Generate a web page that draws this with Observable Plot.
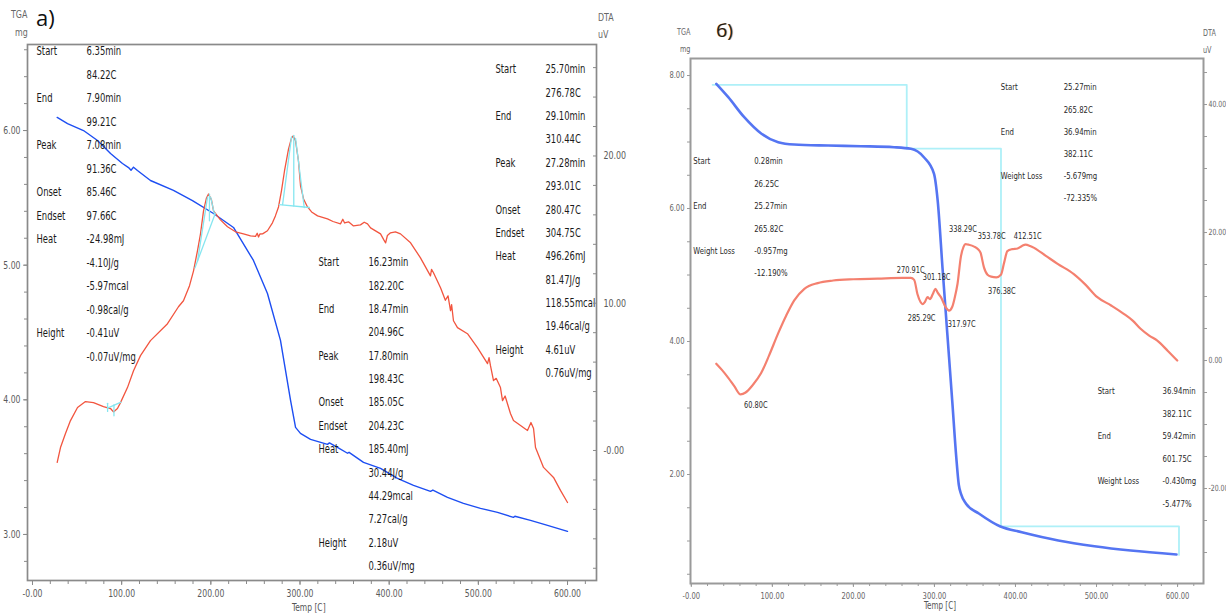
<!DOCTYPE html>
<html><head><meta charset="utf-8">
<script src="https://cdn.jsdelivr.net/npm/d3@7"></script>
<script src="https://cdn.jsdelivr.net/npm/@observablehq/plot@0.6"></script>
<style>
html,body{margin:0;padding:0;background:#fff;}
#root{position:relative;width:1226px;height:614px;overflow:hidden;background:#fff;
  font-family:'DejaVu Sans Condensed','DejaVu Sans',sans-serif;}
.t{position:absolute;white-space:nowrap;line-height:1;transform-origin:left top;}
</style></head>
<body><div id="root"></div>
<script>
// ---------------- DATA ----------------
// Panel a) : TGA (mg) vs Temp (C)
const tgaA = [[27.7,6.097],[39.3,6.052],[57.2,6.000],[72.9,5.926],[87.5,5.829],[100.9,5.755],[107.7,5.725],[110.5,5.705],[113.3,5.728],[117.7,5.703],[132.3,5.629],[158.1,5.555],[179.4,5.480],[203.0,5.384],[225.4,5.280],[247.8,5.035],[263.5,4.790],[278.1,4.441],[289.3,4.000],[295.0,3.795],[300.5,3.751],[311.8,3.706],[330.8,3.669],[333,3.680],[342,3.647],[353.3,3.603],[355,3.610],[371.2,3.535],[390.3,3.491],[409.3,3.416],[427.3,3.365],[446.3,3.320],[449,3.330],[465.4,3.276],[483.3,3.231],[502.4,3.194],[521.5,3.164],[539.4,3.127],[541,3.135],[558.5,3.105],[577.6,3.068],[600,3.023]];
// Panel a) : DTA (uV) vs Temp (C)
const dtaA = [[27.7,-0.81],[31.4,0.20],[37,1.15],[42.6,2.03],[50.5,2.92],[59.4,3.32],[68.4,3.25],[79.6,2.98],[87.5,2.85],[90.8,2.62],[95.3,2.85],[98.7,3.25],[106.5,4.27],[113.3,5.42],[121.1,6.44],[132.3,7.46],[151.4,8.61],[163.7,9.76],[169.3,10.17],[176.1,11.19],[180.6,12.2],[185,13.56],[188.4,14.71],[191.8,16.27],[195.1,17.15],[197.4,17.42],[200.7,17.02],[203,16.27],[210.8,15.66],[218.7,15.19],[227.7,14.85],[236.6,14.71],[244.5,14.58],[250.1,14.54],[252,14.75],[253.5,14.5],[255,14.7],[258,14.71],[263.5,14.92],[269.1,15.46],[272.4,15.93],[275.9,16.54],[279.2,17.63],[282.6,18.98],[287.1,20.47],[290.5,21.22],[292.4,21.36],[295,21.02],[298.3,19.66],[300.6,17.97],[304,17.08],[308.4,16.54],[313,16.2],[319.7,15.93],[330.8,15.73],[337,15.55],[345.4,15.39],[348,15.7],[350,15.45],[354.4,15.53],[360,15.25],[367.8,15.32],[372,15.5],[375.7,15.39],[379.1,15.12],[390.3,14.71],[394,14.3],[396,14.10],[398,14.6],[401.5,14.78],[407,14.85],[412.7,14.71],[424,14.10],[435.1,13.08],[446.3,11.86],[447.5,12.3],[449.7,12.07],[457.6,11.05],[463,10.2],[466,10.5],[468.8,9.49],[470,9.9],[472.1,8.81],[476.6,8.34],[487.8,7.93],[499,6.98],[510.3,5.90],[512,6.3],[513.6,5.76],[517,4.75],[520,4.9],[524.8,4.27],[527.1,3.39],[530,3.7],[536,2.51],[539.4,2.03],[547.3,1.69],[555.1,1.36],[559,1.9],[561.9,1.49],[564.1,0.20],[573.1,-1.15],[584.3,-1.83],[592.1,-2.71],[600,-3.53]];
// Panel a) : peak-analysis construction lines (DTA units)
const cyanA = [
  [[84.22,2.87],[99.21,3.28]], [[84.22,2.65],[84.22,3.2]], [[91.36,2.35],[91.36,3.1]],
  [[182.2,12.4],[204.96,16.1]], [[185.05,12.85],[196.3,17.2]], [[204.23,16.0],[199.8,17.2]], [[198.43,17.4],[198.43,15.6]],
  [[276.78,16.7],[310.44,16.5]], [[280.47,16.7],[290.5,21.3]], [[304.75,16.5],[295.0,21.2]], [[293.01,21.4],[293.01,16.6]]
];
// Panel a) readouts
const blockA1 = [["Start","6.35min"],["","84.22C"],["End","7.90min"],["","99.21C"],["Peak","7.08min"],["","91.36C"],["Onset","85.46C"],["Endset","97.66C"],["Heat","-24.98mJ"],["","-4.10J/g"],["","-5.97mcal"],["","-0.98cal/g"],["Height","-0.41uV"],["","-0.07uV/mg"]];
const blockA2 = [["Start","16.23min"],["","182.20C"],["End","18.47min"],["","204.96C"],["Peak","17.80min"],["","198.43C"],["Onset","185.05C"],["Endset","204.23C"],["Heat","185.40mJ"],["","30.44J/g"],["","44.29mcal"],["","7.27cal/g"],["Height","2.18uV"],["","0.36uV/mg"]];
const blockA3 = [["Start","25.70min"],["","276.78C"],["End","29.10min"],["","310.44C"],["Peak","27.28min"],["","293.01C"],["Onset","280.47C"],["Endset","304.75C"],["Heat","496.26mJ"],["","81.47J/g"],["","118.55mcal"],["","19.46cal/g"],["Height","4.61uV"],["","0.76uV/mg"]];

// Panel б) : TGA (mg)
const tgaB = [[30.8,7.875],[45.6,7.674],[65.3,7.373],[86.2,7.128],[107.2,6.997],[126.9,6.962],[168.8,6.947],[209.4,6.937],[250.1,6.922],[271,6.898],[287,6.771],[299.4,6.526],[304,6.12],[310,5.10],[316,4.10],[322,3.10],[327,2.25],[330,1.85],[333,1.70],[339,1.56],[354.8,1.414],[381.4,1.218],[407.8,1.132],[452.8,1.008],[497.4,0.922],[542.1,0.857],[598.7,0.797]];
// Panel б) : DTA (uV)
const dtaB = [[30.8,-0.5],[38,-1.5],[45.6,-2.7],[53,-4.0],[60.8,-5.3],[67,-5.0],[76,-3.8],[86,-2.0],[96,0.8],[107,4.2],[117,7.0],[127,9.4],[139.5,11.2],[156,12.1],[175,12.5],[200,12.7],[230,12.8],[260,12.9],[270.9,12.9],[275,12.6],[279,10.4],[283,9.1],[285.3,8.8],[288,9.1],[291.5,9.9],[294.5,9.6],[298,10.4],[301.2,11.2],[304,10.6],[308,9.9],[314,8.3],[318,7.8],[322,8.4],[325,9.8],[328.5,12.0],[332.6,16.2],[336,17.8],[338.3,18.2],[342,18.1],[349,17.8],[353.8,17.4],[357,16.8],[361,14.6],[365.5,13.4],[370,13.1],[376.4,13.0],[382,13.4],[386,15.3],[390,17.1],[396,17.4],[402.5,17.5],[408,17.9],[412.5,18.1],[418,17.9],[423,17.6],[437,16.4],[452,15.1],[472,13.5],[486,11.9],[501,9.9],[518,8.6],[533.6,7.3],[545,6.2],[554,5.0],[565,3.9],[575,3.1],[588,1.5],[599.6,0.0]];
// Panel б) : weight-loss steps (mg)
const stepsB = [[26.25,7.86],[265.82,7.86],[265.82,6.90],[382.11,6.90],[382.11,1.22],[601.75,1.22],[601.75,0.79]];
// Panel б) peak temperature labels (DTA units)
const peakLabelsB = [
  {text:"60.80C", x:65, y:-6.9}, {text:"270.91C", x:253.5, y:14.1}, {text:"301.18C", x:285.5, y:13.1},
  {text:"285.29C", x:267, y:6.6}, {text:"317.97C", x:316.5, y:5.7}, {text:"338.29C", x:318, y:20.5},
  {text:"353.78C", x:353.5, y:19.4}, {text:"376.38C", x:366, y:10.9}, {text:"412.51C", x:398, y:19.5}
];
// Panel б) readouts
const blockB1 = [["Start","0.28min"],["","26.25C"],["End","25.27min"],["","265.82C"],["Weight Loss","-0.957mg"],["","-12.190%"]];
const blockB2 = [["Start","25.27min"],["","265.82C"],["End","36.94min"],["","382.11C"],["Weight Loss","-5.679mg"],["","-72.335%"]];
const blockB3 = [["Start","36.94min"],["","382.11C"],["End","59.42min"],["","601.75C"],["Weight Loss","-0.430mg"],["","-5.477%"]];

// Ticks
const xTicks = [0,100,200,300,400,500,600];
const xTickLabels = ["-0.00","100.00","200.00","300.00","400.00","500.00","600.00"];
const tgaTicksA = [3,4,5,6], tgaLabelsA = ["3.00","4.00","5.00","6.00"];
const dtaTicksA = [0,10,20], dtaLabelsA = ["-0.00","10.00","20.00"];
const tgaTicksB = [2,4,6,8], tgaLabelsB = ["2.00","4.00","6.00","8.00"];
const dtaTicksB = [-20,0,20,40], dtaLabelsB = ["-20.00","0.00","20.00","40.00"];

// ---------------- DRAWING ----------------
const FONT = "'DejaVu Sans Condensed','DejaVu Sans',sans-serif";
const root = document.getElementById("root");
const fmt = (ticks, labels) => { const m = new Map(ticks.map((t,i)=>[t,labels[i]])); return d => m.has(d) ? m.get(d) : ""; };
const pts = a => a.map(([x,y]) => ({x,y}));
const segs = list => list.flatMap((s,k) => s.map(([x,y]) => ({x,y,k})));
function rows(block, lx, vx, y0, step) {
  const out = [];
  block.forEach(([l,v],i) => { const y = y0 - i*step; if (l) out.push({x:lx,y,text:l}); out.push({x:vx,y,text:v}); });
  return out;
}
// narrow the glyphs horizontally (the original software uses a narrow face)
function narrow(svg, s) {
  svg.querySelectorAll("text").forEach(t => {
    const x = +(t.getAttribute("x") || 0);
    const tr = t.getAttribute("transform") || "";
    t.setAttribute("transform", `${tr} translate(${x},0) scale(${s},1) translate(${-x},0)`);
  });
}
function place(svg, left, s) { narrow(svg, s); svg.style.position = "absolute"; svg.style.left = left+"px"; svg.style.top = "0px"; root.appendChild(svg); }
function label(text, left, top, size, color, extra) {
  const d = document.createElement("div"); d.className = "t"; d.textContent = text;
  d.style.left = left+"px"; d.style.top = top+"px"; d.style.fontSize = size+"px"; d.style.color = color;
  if (extra) Object.assign(d.style, extra);
  root.appendChild(d);
}
const range = (a,b,s) => d3.range(a, b+1e-9, s).map(v => +v.toFixed(4));

// ----- Panel a
const geoA = {width:640, height:614, marginLeft:27, marginRight:44, marginTop:44, marginBottom:34};
const xA = {domain:[-5.6,632.5], label:null};
const gray = "#8a8a8a", tickText = "#5a5a5a";

const a1 = Plot.plot({
  ...geoA, x:xA, y:{domain:[2.658,6.639], label:null},
  style:{background:"transparent", fontFamily:FONT, fontSize:"11px"},
  marks:[
    Plot.frame({stroke:gray, strokeWidth:1.7}),
    Plot.axisX(range(0,620,20), {tickSize:4, tickFormat:()=>"", stroke:gray, label:null}),
    Plot.axisX(xTicks, {tickSize:5, tickPadding:4, tickFormat:fmt(xTicks,xTickLabels), stroke:gray, fill:tickText, label:null, fontSize:11}),
    Plot.axisY(range(2.8,6.6,0.2), {anchor:"left", tickSize:3, tickFormat:()=>"", stroke:gray, label:null}),
    Plot.axisY(tgaTicksA, {anchor:"left", tickSize:4, tickPadding:3, tickFormat:fmt(tgaTicksA,tgaLabelsA), stroke:gray, fill:tickText, label:null, fontSize:11}),
    Plot.line(pts(tgaA), {x:"x", y:"y", stroke:"#1d4ef2", strokeWidth:1.4}),
    Plot.text([...rows(blockA1,4.5,60.6,6.587,0.1745), ...rows(blockA2,320.7,376.8,5.020,0.1735), ...rows(blockA3,519.2,575.3,6.453,0.1735)],
      {x:"x", y:"y", text:"text", textAnchor:"start", lineAnchor:"middle", fontSize:12, fill:"#1a1a1a", fontFamily:FONT})
  ]
});
place(a1, 0, 0.78);

const a2 = Plot.plot({
  ...geoA, x:{...xA, axis:null}, y:{domain:[-8.83,27.57], label:null},
  style:{background:"transparent", fontFamily:FONT, fontSize:"11px"},
  marks:[
    Plot.axisY(range(-8,26,2), {anchor:"right", tickSize:-4, tickFormat:()=>"", stroke:gray, label:null}),
    Plot.axisY(dtaTicksA, {anchor:"right", tickSize:0, tickPadding:7, tickFormat:fmt(dtaTicksA,dtaLabelsA), fill:tickText, label:null, fontSize:11}),
    Plot.line(pts(dtaA), {x:"x", y:"y", stroke:"#f2553f", strokeWidth:1.3}),
    Plot.line(segs(cyanA), {x:"x", y:"y", z:"k", stroke:"#86e6f0", strokeWidth:1.3})
  ]
});
place(a2, 0, 0.8);

const narrowCss = {transform:"scaleX(0.8)"};
label("TGA", 11, 9, 11, "#666", narrowCss);
label("mg", 15, 27, 11, "#666", narrowCss);
label("DTA", 598, 12, 11, "#666", narrowCss);
label("uV", 598, 29, 11, "#666", narrowCss);
label("a)", 36, 6, 22, "#111", {fontFamily:"'Open Sans',sans-serif"});
label("Temp [C]", 292, 602, 10.5, "#555", narrowCss);

// ----- Panel б
const geoB = {width:586, height:614, marginLeft:50, marginRight:23, marginTop:58, marginBottom:31};
const xB = {domain:[-1,632], label:null};
const grayB = "#9a9a9a", tickTextB = "#666";

const b1 = Plot.plot({
  ...geoB, x:xB, y:{domain:[0.361,8.256], label:null},
  style:{background:"transparent", fontFamily:FONT, fontSize:"9px"},
  marks:[
    Plot.frame({stroke:grayB, strokeWidth:2}),
    Plot.axisX(range(0,620,20), {tickSize:3, tickFormat:()=>"", stroke:grayB, label:null}),
    Plot.axisX(xTicks, {tickSize:4, tickPadding:5, tickFormat:fmt(xTicks,xTickLabels), stroke:grayB, fill:tickTextB, label:null, fontSize:9}),
    Plot.axisY(range(0.5,8,0.5), {anchor:"left", tickSize:3, tickFormat:()=>"", stroke:grayB, label:null}),
    Plot.axisY(tgaTicksB, {anchor:"left", tickSize:3, tickPadding:3, tickFormat:fmt(tgaTicksB,tgaLabelsB), stroke:grayB, fill:tickTextB, label:null, fontSize:9}),
    Plot.line(pts(stepsB), {x:"x", y:"y", stroke:"#aef0f8", strokeWidth:1.8}),
    Plot.line(pts(tgaB), {x:"x", y:"y", stroke:"#5575f2", strokeWidth:2.6, curve:"monotone-x"}),
    Plot.text([...rows(blockB1,2.5,77.6,6.707,0.337), ...rows(blockB2,381.9,459.5,7.82,0.334), ...rows(blockB3,501.4,581.5,3.253,0.338)],
      {x:"x", y:"y", text:"text", textAnchor:"start", lineAnchor:"middle", fontSize:9.2, fill:"#2a2a2a", fontFamily:FONT})
  ]
});
place(b1, 640, 0.84);

const b2 = Plot.plot({
  ...geoB, x:{...xB, axis:null}, y:{domain:[-34.84,47.19], label:null},
  style:{background:"transparent", fontFamily:FONT, fontSize:"9px"},
  marks:[
    Plot.axisY(range(-30,45,5), {anchor:"right", tickSize:3, tickFormat:()=>"", stroke:grayB, label:null}),
    Plot.axisY(dtaTicksB, {anchor:"right", tickSize:3, tickPadding:2, tickFormat:fmt(dtaTicksB,dtaLabelsB), stroke:grayB, fill:tickTextB, label:null, fontSize:8.6}),
    Plot.line(pts(dtaB), {x:"x", y:"y", stroke:"#f4806f", strokeWidth:2.2, curve:"monotone-x"}),
    Plot.text(peakLabelsB, {x:"x", y:"y", text:"text", textAnchor:"start", lineAnchor:"middle", fontSize:9.2, fill:"#2a2a2a", fontFamily:FONT})
  ]
});
place(b2, 640, 0.8);

label("TGA", 677, 28, 9, "#666", narrowCss);
label("mg", 680, 45, 9, "#666", narrowCss);
label("DTA", 1203, 29, 9, "#666", narrowCss);
label("uV", 1203, 46, 9, "#666", narrowCss);
label("б)", 716, 21, 19, "#1a1a1a", {fontFamily:"'Open Sans',sans-serif", textShadow:"1px 0 0 rgba(230,140,40,0.7)"});
label("Temp [C]", 924, 601, 10, "#555", narrowCss);
</script>
</body></html>
